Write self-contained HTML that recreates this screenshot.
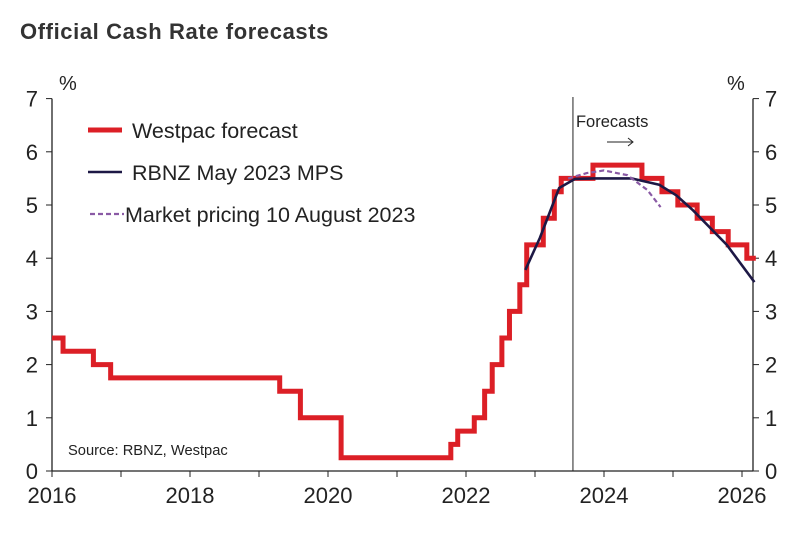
<!DOCTYPE html>
<html><head><meta charset="utf-8"><style>
body{margin:0;background:#fff;width:806px;height:528px;overflow:hidden;font-family:"Liberation Sans",sans-serif}
</style></head><body>
<svg width="806" height="528" id="c" font-family="Liberation Sans, sans-serif">
<text x="20" y="39" font-size="22" font-weight="bold" fill="#333" letter-spacing="0.6">Official Cash Rate forecasts</text>
</svg>
<script>
const westpacDates=[2016.0,2016.16,2016.6,2016.85,2019.3,2019.6,2020.19,2021.78,2021.88,2022.12,2022.27,2022.38,2022.52,2022.63,2022.78,2022.88,2023.12,2023.28,2023.38,2023.84,2024.55,2024.84,2025.07,2025.35,2025.57,2025.8,2026.07,2026.2];
const westpacRates=[2.5,2.25,2.0,1.75,1.5,1.0,0.25,0.5,0.75,1.0,1.5,2.0,2.5,3.0,3.5,4.25,4.75,5.25,5.5,5.75,5.5,5.25,5.0,4.75,4.5,4.25,4.0,4.0];
const rbnzDates=[2022.86,2023.07,2023.35,2023.58,2023.85,2024.4,2024.8,2025.05,2025.29,2025.78,2026.18];
const rbnzRates=[3.78,4.38,5.32,5.49,5.5,5.5,5.38,5.18,4.9,4.25,3.55];
const marketDates=[2023.48,2023.75,2024.0,2024.34,2024.63,2024.82];
const marketRates=[5.5,5.6,5.65,5.56,5.28,4.96];
const yTicks=[0,1,2,3,4,5,6,7];
const xTicks=[2016,2018,2020,2022,2024,2026];
const NS="http://www.w3.org/2000/svg",svg=document.getElementById('c');
const X=t=>52+(t-2016)*69.0, Y=v=>471-v*53.2;
function mk(tag,at,txt){const e=document.createElementNS(NS,tag);for(const k in at)e.setAttribute(k,at[k]);if(txt!==undefined)e.textContent=txt;svg.appendChild(e);return e;}
let e=mk('line',{x1:52,y1:Y(7),x2:52,y2:471,stroke:'#222','stroke-width':1.3});

e=mk('line',{x1:753,y1:Y(7),x2:753,y2:471,stroke:'#222','stroke-width':1.3});

e=mk('line',{x1:52,y1:471,x2:753,y2:471,stroke:'#222','stroke-width':1.3});

yTicks.forEach(v=>{
 mk('line',{x1:46,x2:52,y1:Y(v),y2:Y(v),stroke:'#222'});
 mk('line',{x1:753,x2:759,y1:Y(v),y2:Y(v),stroke:'#222'});
 let t=mk('text',{x:38,y:Y(v)+8,'font-size':22,fill:'#222','text-anchor':'end'},v);
 
 t=mk('text',{x:765,y:Y(v)+8,'font-size':22,fill:'#222'},v);
 
});
for(let yr=2016;yr<=2026;yr++)mk('line',{x1:X(yr),x2:X(yr),y1:471,y2:477,stroke:'#222'});
xTicks.forEach(yr=>{let t=mk('text',{x:X(yr),y:503,'font-size':22,fill:'#222','text-anchor':'middle'},yr);
 });
e=mk('text',{x:59,y:90,'font-size':20,fill:'#222'},'%');
e=mk('text',{x:727,y:90,'font-size':20,fill:'#222'},'%');
e=mk('line',{x1:X(2023.55),x2:X(2023.55),y1:97,y2:471,stroke:'#222','stroke-width':1});

e=mk('text',{x:X(2023.55)+3,y:127,'font-size':16.5,fill:'#222'},'Forecasts');

e=mk('path',{d:'M607 142H633M628 138L633 142L628 146',stroke:'#222',fill:'none','stroke-width':1});

let d='';westpacDates.forEach((t,i)=>{if(i===0)d='M'+X(t)+' '+Y(westpacRates[0]);else d+=' H'+X(t)+' V'+Y(westpacRates[i]);});
e=mk('path',{d:d,stroke:'#dc1f26','stroke-width':5,fill:'none'});

e=mk('polyline',{points:rbnzDates.map((t,i)=>X(t)+','+Y(rbnzRates[i])).join(' '),stroke:'#1d1845','stroke-width':2.6,fill:'none','stroke-linejoin':'round'});

e=mk('polyline',{points:marketDates.map((t,i)=>X(t)+','+Y(marketRates[i])).join(' '),stroke:'#8a5aa5','stroke-width':2.2,fill:'none','stroke-dasharray':'5,3'});

e=mk('line',{x1:88,x2:122,y1:130,y2:130,stroke:'#dc1f26','stroke-width':5});
e=mk('text',{x:132,y:138,'font-size':21.5,fill:'#222'},'Westpac forecast');
e=mk('line',{x1:88,x2:122,y1:172,y2:172,stroke:'#1d1845','stroke-width':2.6});
e=mk('text',{x:132,y:180,'font-size':21.5,fill:'#222'},'RBNZ May 2023 MPS');
e=mk('line',{x1:90,x2:124,y1:214,y2:214,stroke:'#8a5aa5','stroke-width':2.2,'stroke-dasharray':'5,3'});
e=mk('text',{x:125,y:222,'font-size':21.5,fill:'#222'},'Market pricing 10 August 2023');
e=mk('text',{x:68,y:455,'font-size':14.7,fill:'#222'},'Source: RBNZ, Westpac');
</script>
</body></html>
